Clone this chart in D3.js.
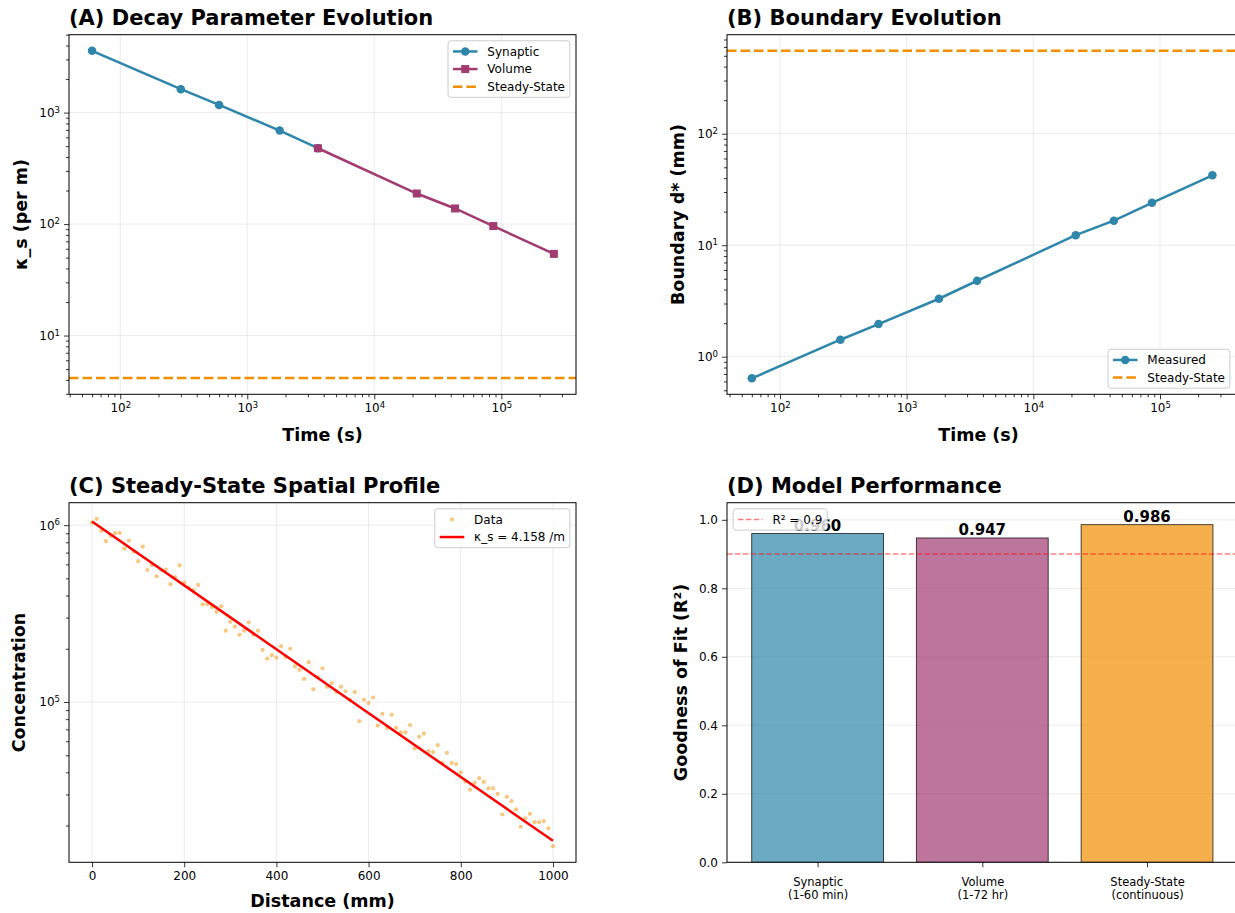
<!DOCTYPE html>
<html>
<head>
<meta charset="utf-8">
<script src="https://cdn.jsdelivr.net/npm/d3@7"></script>
<style>
  body { margin: 0; background: #fff; }
  text { font-family: "DejaVu Sans", sans-serif; }
</style>
</head>
<body>
<svg id="fig" width="1235" height="913"></svg>
<script>
// ---- data ----
var synapticTimes = [60, 300, 600, 1800, 3600];
var synapticKappa = [3585, 1622, 1173, 690, 479];
var volumeTimes = [3600, 21600, 43200, 86400, 259200];
var volumeKappa = [479, 188, 138, 96, 54];
var steadyKappa = 4.158;

var boundaryTimes = [60, 300, 600, 1800, 3600, 21600, 43200, 86400, 259200];
var boundaryMm = [0.64, 1.42, 1.96, 3.31, 4.80, 12.3, 16.6, 24.0, 42.4];
var steadyBoundary = 554;

var distanceMm = d3.range(0, 1001, 10);
var concentration = [
  1034000, 1086000, 928000, 812000, 870000, 901000, 904000, 737000, 818000, 709000,
  626000, 757000, 558000, 594000, 514000, 558000, 561000, 464000, 508000, 592000,
  473000, 444000, 430000, 459000, 357000, 357000, 345000, 324000, 348000, 253000,
  284000, 267000, 240000, 253000, 282000, 240000, 253000, 197000, 176000, 184000,
  178000, 207000, 180000, 200000, 159000, 152000, 135000, 168000, 118000, 138000,
  155000, 122000, 128000, 114000, 122000, 115000, 103000, 114000, 77800, 103000,
  98700, 106000, 73600, 85800, 71400, 84700, 71400, 67400, 67400, 74100,
  54600, 63600, 66200, 52700, 52100, 57100, 45300, 51600, 45200, 44600,
  40000, 35500, 31900, 34900, 37100, 35300, 32500, 32500, 30200, 23100,
  29100, 27500, 24700, 19700, 22000, 23300, 20900, 20900, 21200, 19300,
  15300];
var fitDistance = [0, 1000];
var fitConc = [1048000, 16400];

var regimes = ["Synaptic\n(1-60 min)", "Volume\n(1-72 hr)", "Steady-State\n(continuous)"];
var r2Values = [0.960, 0.947, 0.986];
var r2Threshold = 0.9;

// ---- look ----
var cSyn = "#2E86AB", cVol = "#A23B72", cSteady = "#F18F01";
var barColors = [cSyn, cVol, cSteady];

var svg = d3.select("#fig");

var PA = {l: 69, r: 576, t: 34.7, b: 394.3},
    PB = {l: 727, r: 1236, t: 34.7, b: 394.3},
    PC = {l: 69, r: 576, t: 502.7, b: 862.3},
    PD = {l: 727, r: 1236, t: 502.7, b: 862.3};

var xA = d3.scaleLog().domain([39.5, 387000]).range([PA.l, PA.r]);
var yA = d3.scaleLog().domain([2.97, 5000]).range([PA.b, PA.t]);
var xB = d3.scaleLog().domain([38.2, 398000]).range([PB.l, PB.r]);
var yB = d3.scaleLog().domain([0.46, 773]).range([PB.b, PB.t]);
var xC = d3.scaleLinear().domain([-50, 1050]).range([PC.l, PC.r]);
var yC = d3.scaleLog().domain([12400, 1.34e6]).range([PC.b, PC.t]);
var xD = d3.scaleLinear().domain([-0.55, 2.54]).range([PD.l, PD.r]);
var yD = d3.scaleLinear().domain([0, 1.05]).range([PD.b, PD.t]);

function logMajors(s) {
  var d = s.domain(), out = [];
  for (var k = Math.floor(Math.log10(d[0])); k <= Math.ceil(Math.log10(d[1])); k++) {
    var v = Math.pow(10, k);
    if (v >= d[0] && v <= d[1]) out.push(v);
  }
  return out;
}
function logMinors(s) {
  var d = s.domain(), out = [];
  for (var k = Math.floor(Math.log10(d[0])); k <= Math.ceil(Math.log10(d[1])); k++)
    for (var m = 2; m <= 9; m++) {
      var v = m * Math.pow(10, k);
      if (v >= d[0] && v <= d[1]) out.push(v);
    }
  return out;
}

function clipFor(id, P) {
  svg.append("clipPath").attr("id", id).append("rect")
    .attr("x", P.l).attr("y", P.t).attr("width", P.r - P.l).attr("height", P.b - P.t);
  return "url(#" + id + ")";
}

function styleAxis(g) {
  g.attr("font-size", 12).attr("font-family", "DejaVu Sans");
  g.select(".domain").remove();
  g.selectAll(".tick line").attr("stroke", "#000").attr("stroke-width", 0.8);
  g.selectAll(".tick text").attr("fill", "#000");
}
function supLabels(g) {
  g.selectAll(".tick text").each(function(d) {
    var t = d3.select(this), e = Math.round(Math.log10(d));
    t.text(null);
    t.append("tspan").text("10");
    t.append("tspan").attr("dy", "-0.5em").attr("font-size", "8.5px").text(e);
  });
}

function logX(P, x) {
  var g = svg.append("g").attr("transform", "translate(0," + P.b + ")");
  g.call(d3.axisBottom(x).tickValues(logMinors(x)).tickSize(3).tickFormat(""));
  styleAxis(g);
  var g2 = svg.append("g").attr("transform", "translate(0," + P.b + ")");
  g2.call(d3.axisBottom(x).tickValues(logMajors(x)).tickSize(5).tickPadding(4).tickFormat(function(d) { return d; }));
  styleAxis(g2); supLabels(g2);
}
function logY(P, y) {
  var g = svg.append("g").attr("transform", "translate(" + P.l + ",0)");
  g.call(d3.axisLeft(y).tickValues(logMinors(y)).tickSize(3).tickFormat(""));
  styleAxis(g);
  var g2 = svg.append("g").attr("transform", "translate(" + P.l + ",0)");
  g2.call(d3.axisLeft(y).tickValues(logMajors(y)).tickSize(5).tickPadding(4).tickFormat(function(d) { return d; }));
  styleAxis(g2); supLabels(g2);
}

function gridX(P, x, vals) {
  svg.append("g").selectAll("line").data(vals).enter().append("line")
    .attr("x1", function(d) { return x(d); }).attr("x2", function(d) { return x(d); })
    .attr("y1", P.t).attr("y2", P.b)
    .attr("stroke", "#b0b0b0").attr("stroke-opacity", 0.3).attr("stroke-width", 0.8);
}
function gridY(P, y, vals) {
  svg.append("g").selectAll("line").data(vals).enter().append("line")
    .attr("y1", function(d) { return y(d); }).attr("y2", function(d) { return y(d); })
    .attr("x1", P.l).attr("x2", P.r)
    .attr("stroke", "#b0b0b0").attr("stroke-opacity", 0.3).attr("stroke-width", 0.8);
}
function spines(P) {
  svg.append("rect").attr("x", P.l).attr("y", P.t)
    .attr("width", P.r - P.l).attr("height", P.b - P.t)
    .attr("fill", "none").attr("stroke", "#000").attr("stroke-width", 1);
}
function titles(P, title, xlab, ylab, xlabY, ylabX) {
  svg.append("text").attr("x", P.l).attr("y", P.t - 10)
    .attr("font-size", "21px").attr("font-weight", "bold").text(title);
  svg.append("text").attr("x", (P.l + Math.min(P.r, 1233)) / 2 - (P.r > 1233 ? 1.5 : 0)).attr("y", xlabY)
    .attr("text-anchor", "middle").attr("font-size", "17.5px").attr("font-weight", "bold").text(xlab);
  svg.append("text").attr("transform", "translate(" + ylabX + "," + (P.t + P.b) / 2 + ") rotate(-90)")
    .attr("text-anchor", "middle").attr("dy", "0.35em")
    .attr("font-size", "17.5px").attr("font-weight", "bold").text(ylab);
}

function marker(g, type, cx, cy, color, size) {
  if (type === "circle") {
    g.append("circle").attr("cx", cx).attr("cy", cy).attr("r", size / 2).attr("fill", color);
  } else {
    g.append("rect").attr("x", cx - size / 2).attr("y", cy - size / 2)
      .attr("width", size).attr("height", size).attr("fill", color);
  }
}

function legend(P, items, corner) {
  var fs = 12, pad = 4.9, rowH = 11.5, gap = 6.1, hl = 24.6, hp = 9.8, ax = 6.1;
  var lg = svg.append("g");
  var bg = lg.append("rect");
  var texts = items.map(function(it) {
    return lg.append("text").attr("font-size", fs + "px").attr("dy", "0.35em").text(it.label);
  });
  var tw = d3.max(texts, function(t) { return t.node().getComputedTextLength(); });
  var w = 2 * pad + hl + hp + tw, h = 2 * pad + items.length * rowH + (items.length - 1) * gap;
  var right = Math.min(P.r, 1236);
  var x0 = corner[0] === "r" ? right - ax - w : P.l + ax;
  var y0 = corner[1] === "t" ? P.t + ax : P.b - ax - h;
  bg.attr("x", x0).attr("y", y0).attr("width", w).attr("height", h).attr("rx", 3)
    .attr("fill", "#fff").attr("fill-opacity", 0.8).attr("stroke", "#cccccc").attr("stroke-width", 1);
  items.forEach(function(it, i) {
    var cy = y0 + pad + i * (rowH + gap) + rowH / 2;
    var hx0 = x0 + pad, hx1 = x0 + pad + hl;
    if (it.line) {
      lg.append("line").attr("x1", hx0).attr("x2", hx1).attr("y1", cy).attr("y2", cy)
        .attr("stroke", it.color).attr("stroke-width", it.width || 2.5)
        .attr("stroke-opacity", it.opacity || 1)
        .attr("stroke-dasharray", it.dash || null);
    }
    if (it.marker) {
      var mg = lg.append("g").attr("opacity", it.mOpacity || 1);
      marker(mg, it.marker, (hx0 + hx1) / 2, cy, it.color, it.mSize || 8);
    }
    texts[i].attr("x", hx1 + hp).attr("y", cy);
  });
}

var line = d3.line();

// ---------- (A) ----------
(function() {
  var P = PA, x = xA, y = yA, clip = clipFor("clipA", P);
  gridX(P, x, logMajors(x)); gridY(P, y, logMajors(y));
  var g = svg.append("g").attr("clip-path", clip);
  g.append("line").attr("x1", P.l).attr("x2", P.r).attr("y1", y(steadyKappa)).attr("y2", y(steadyKappa))
    .attr("stroke", cSteady).attr("stroke-width", 2.5).attr("stroke-dasharray", "9.5,4");
  g.append("path").attr("d", line(synapticTimes.map(function(t, i) { return [x(t), y(synapticKappa[i])]; })))
    .attr("fill", "none").attr("stroke", cSyn).attr("stroke-width", 2.5);
  synapticTimes.forEach(function(t, i) { marker(g, "circle", x(t), y(synapticKappa[i]), cSyn, 8.5); });
  g.append("path").attr("d", line(volumeTimes.map(function(t, i) { return [x(t), y(volumeKappa[i])]; })))
    .attr("fill", "none").attr("stroke", cVol).attr("stroke-width", 2.5);
  volumeTimes.forEach(function(t, i) { marker(g, "square", x(t), y(volumeKappa[i]), cVol, 8); });
  spines(P); logX(P, x); logY(P, y);
  titles(P, "(A) Decay Parameter Evolution", "Time (s)", "κ_s (per m)", 441, 21);
  legend(P, [
    {label: "Synaptic", line: true, color: cSyn, marker: "circle", mSize: 8.5},
    {label: "Volume", line: true, color: cVol, marker: "square", mSize: 8},
    {label: "Steady-State", line: true, color: cSteady, dash: "9.5,4"}
  ], "rt");
})();

// ---------- (B) ----------
(function() {
  var P = PB, x = xB, y = yB, clip = clipFor("clipB", P);
  gridX(P, x, logMajors(x)); gridY(P, y, logMajors(y));
  var g = svg.append("g").attr("clip-path", clip);
  g.append("path").attr("d", line(boundaryTimes.map(function(t, i) { return [x(t), y(boundaryMm[i])]; })))
    .attr("fill", "none").attr("stroke", cSyn).attr("stroke-width", 2.5);
  boundaryTimes.forEach(function(t, i) { marker(g, "circle", x(t), y(boundaryMm[i]), cSyn, 8.5); });
  g.append("line").attr("x1", P.l).attr("x2", P.r).attr("y1", y(steadyBoundary)).attr("y2", y(steadyBoundary))
    .attr("stroke", cSteady).attr("stroke-width", 2.5).attr("stroke-dasharray", "9.5,4");
  spines(P); logX(P, x); logY(P, y);
  titles(P, "(B) Boundary Evolution", "Time (s)", "Boundary d* (mm)", 441, 678);
  legend(P, [
    {label: "Measured", line: true, color: cSyn, marker: "circle", mSize: 8.5},
    {label: "Steady-State", line: true, color: cSteady, dash: "9.5,4"}
  ], "rb");
})();

// ---------- (C) ----------
(function() {
  var P = PC, x = xC, y = yC, clip = clipFor("clipC", P);
  var xt = [0, 200, 400, 600, 800, 1000];
  gridX(P, x, xt); gridY(P, y, logMajors(y));
  var g = svg.append("g").attr("clip-path", clip);
  g.selectAll("circle.pt").data(concentration).enter().append("circle")
    .attr("class", "pt")
    .attr("cx", function(d, i) { return x(distanceMm[i]); })
    .attr("cy", function(d) { return y(d); })
    .attr("r", 2.1).attr("fill", cSteady).attr("fill-opacity", 0.5);
  g.append("path").attr("d", line(fitDistance.map(function(d, i) { return [x(d), y(fitConc[i])]; })))
    .attr("fill", "none").attr("stroke", "#ff0000").attr("stroke-width", 2.5);
  spines(P);
  var gx = svg.append("g").attr("transform", "translate(0," + P.b + ")");
  gx.call(d3.axisBottom(x).tickValues(xt).tickSize(5).tickPadding(4).tickFormat(d3.format("d")));
  styleAxis(gx);
  logY(P, y);
  titles(P, "(C) Steady-State Spatial Profile", "Distance (mm)", "Concentration", 907, 19);
  legend(P, [
    {label: "Data", color: cSteady, marker: "circle", mSize: 4.2, mOpacity: 0.5},
    {label: "κ_s = " + steadyKappa.toFixed(3) + " /m", line: true, color: "#ff0000"}
  ], "rt");
})();

// ---------- (D) ----------
(function() {
  var P = PD, x = xD, y = yD, clip = clipFor("clipD", P);
  var yt = [0, 0.2, 0.4, 0.6, 0.8, 1.0];
  gridY(P, y, yt);
  var g = svg.append("g").attr("clip-path", clip);
  g.selectAll("rect.bar").data(r2Values).enter().append("rect")
    .attr("class", "bar")
    .attr("x", function(d, i) { return x(i - 0.4); })
    .attr("width", function(d, i) { return x(i + 0.4) - x(i - 0.4); })
    .attr("y", function(d) { return y(d); })
    .attr("height", function(d) { return y(0) - y(d); })
    .attr("fill", function(d, i) { return barColors[i]; }).attr("fill-opacity", 0.7)
    .attr("stroke", "#000").attr("stroke-opacity", 0.7).attr("stroke-width", 1);
  g.append("line").attr("x1", P.l).attr("x2", P.r).attr("y1", y(r2Threshold)).attr("y2", y(r2Threshold))
    .attr("stroke", "#ff0000").attr("stroke-opacity", 0.5).attr("stroke-width", 1.5)
    .attr("stroke-dasharray", "5.5,2.4");
  spines(P);
  var gy = svg.append("g").attr("transform", "translate(" + P.l + ",0)");
  gy.call(d3.axisLeft(y).tickValues(yt).tickSize(5).tickPadding(4).tickFormat(d3.format(".1f")));
  styleAxis(gy);
  var gx = svg.append("g").attr("transform", "translate(0," + P.b + ")");
  gx.call(d3.axisBottom(x).tickValues([0, 1, 2]).tickSize(5).tickPadding(4).tickFormat(""));
  styleAxis(gx);
  gx.selectAll(".tick").each(function(d) {
    var parts = regimes[d].split("\n");
    var t = d3.select(this).append("text").attr("fill", "#000").attr("font-size", "11.5px")
      .attr("text-anchor", "middle").attr("y", 23.5);
    t.append("tspan").attr("x", 0).text(parts[0]);
    t.append("tspan").attr("x", 0).attr("dy", "1.15em").text(parts[1]);
  });
  svg.append("g").selectAll("text").data(r2Values).enter().append("text")
    .attr("x", function(d, i) { return x(i); })
    .attr("y", function(d) { return y(d) - 3; })
    .attr("text-anchor", "middle").attr("font-size", "15px").attr("font-weight", "bold")
    .text(function(d) { return d.toFixed(3); });
  titles(P, "(D) Model Performance", "", "Goodness of Fit (R²)", 907, 681);
  legend(P, [
    {label: "R² = " + r2Threshold, line: true, color: "#ff0000", opacity: 0.5, width: 1.5, dash: "5.5,2.4"}
  ], "lt");
})();
</script>
</body>
</html>
